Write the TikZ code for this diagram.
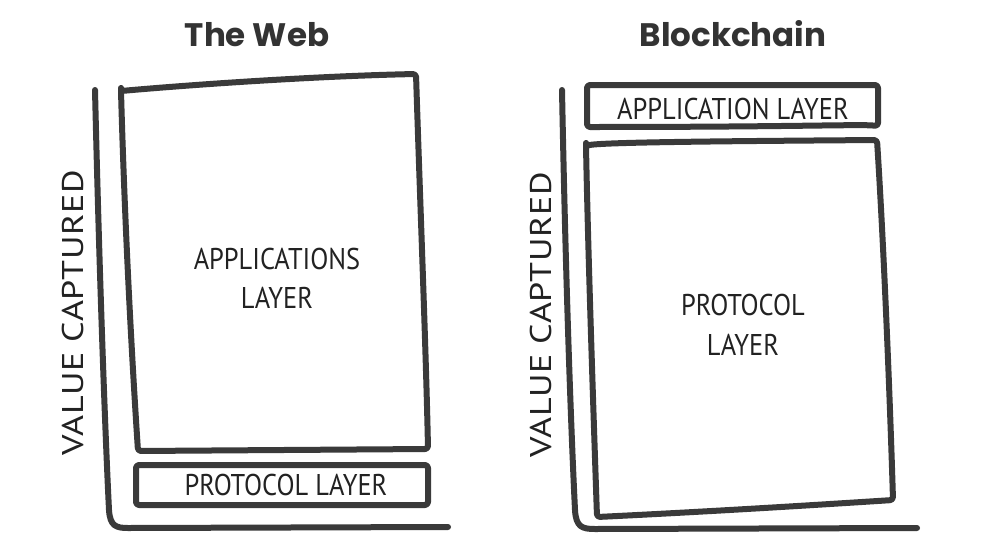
\documentclass[tikz,border=0pt]{standalone}
\usepackage{fontspec}
\newfontfamily\titlefont{Poppins}
\newfontfamily\handfont[FakeStretch=0.88]{PT Sans}
\newfontfamily\vcfont[FakeStretch=1.2,LetterSpace=2]{PT Sans}
\definecolor{ink}{HTML}{3A3A3A}
\definecolor{txt}{HTML}{222222}
\definecolor{ttl}{HTML}{333333}
\begin{document}
\begin{tikzpicture}[x=1pt,y=-1pt,
  stroke/.style={draw=ink,line width=6pt,line cap=round,line join=round,rounded corners=3pt},
  axisline/.style={draw=ink,line width=6pt,line cap=round,line join=round},
  ttlnode/.style={font=\titlefont\bfseries\fontsize{32.5}{36}\selectfont,text=ttl,inner sep=0pt},
  hand/.style={font=\handfont\fontsize{30}{40}\selectfont,text=txt,inner sep=0pt,align=center},
  vclabel/.style={font=\vcfont\fontsize{30}{40}\selectfont,text=txt,inner sep=0pt,rotate=90,anchor=base}]
\useasboundingbox[fill=white] (0,0) rectangle (984,554);

% ---------- Left: The Web ----------
\node[ttlnode,anchor=base] (tweb) at (257,46.5) {The Web};
% axis
\path[axisline] (95,90) .. controls (100,300) and (106,450) .. (109,510)
  .. controls (110,526) and (116,528) .. (128,528) -- (448,527);
% applications box
\path[stroke] (121,91) .. controls (200,84) and (320,76) .. (416,74)
  .. controls (420,200) and (426,350) .. (428,449)
  -- (138,451)
  .. controls (130,330) and (124,200) .. (121,91) -- cycle;
% protocol small box
\path[stroke] (136,465) -- (428,465) -- (428,505) -- (136,505) -- cycle;
\node[hand,anchor=base] (appl) at (277,269) {APPLICATIONS};
\node[hand,anchor=base] (appl2) at (277,308) {LAYER};
\node[hand,anchor=base] (protl) at (286,495) {PROTOCOL LAYER};
\node[vclabel] (vcl) at (83,313) {VALUE CAPTURED};

% ---------- Right: Blockchain ----------
\node[ttlnode,anchor=base] (tbc) at (733,46.5) {Blockchain};
\path[axisline] (562,90) .. controls (566,300) and (572,450) .. (575,510)
  .. controls (576,527) and (582,529) .. (595,529) -- (917,528);
% application small box
\path[stroke] (587,85) -- (878,85) -- (878,126) .. controls (860,124) and (800,127) .. (587,127) -- cycle;
% protocol big box
\path[stroke] (586,146) .. controls (600,142) and (750,141) .. (877,140)
  .. controls (884,250) and (890,400) .. (893,500)
  .. controls (800,506) and (700,512) .. (597,517)
  .. controls (593,400) and (588,250) .. (586,146) -- cycle;
\node[hand,anchor=base] (aplr) at (733,119) {APPLICATION LAYER};
\node[hand,anchor=base] (prr) at (743,315) {PROTOCOL};
\node[hand,anchor=base] (prr2) at (743,355) {LAYER};
\node[vclabel] (vcr) at (551,315) {VALUE CAPTURED};
\end{tikzpicture}
\end{document}
